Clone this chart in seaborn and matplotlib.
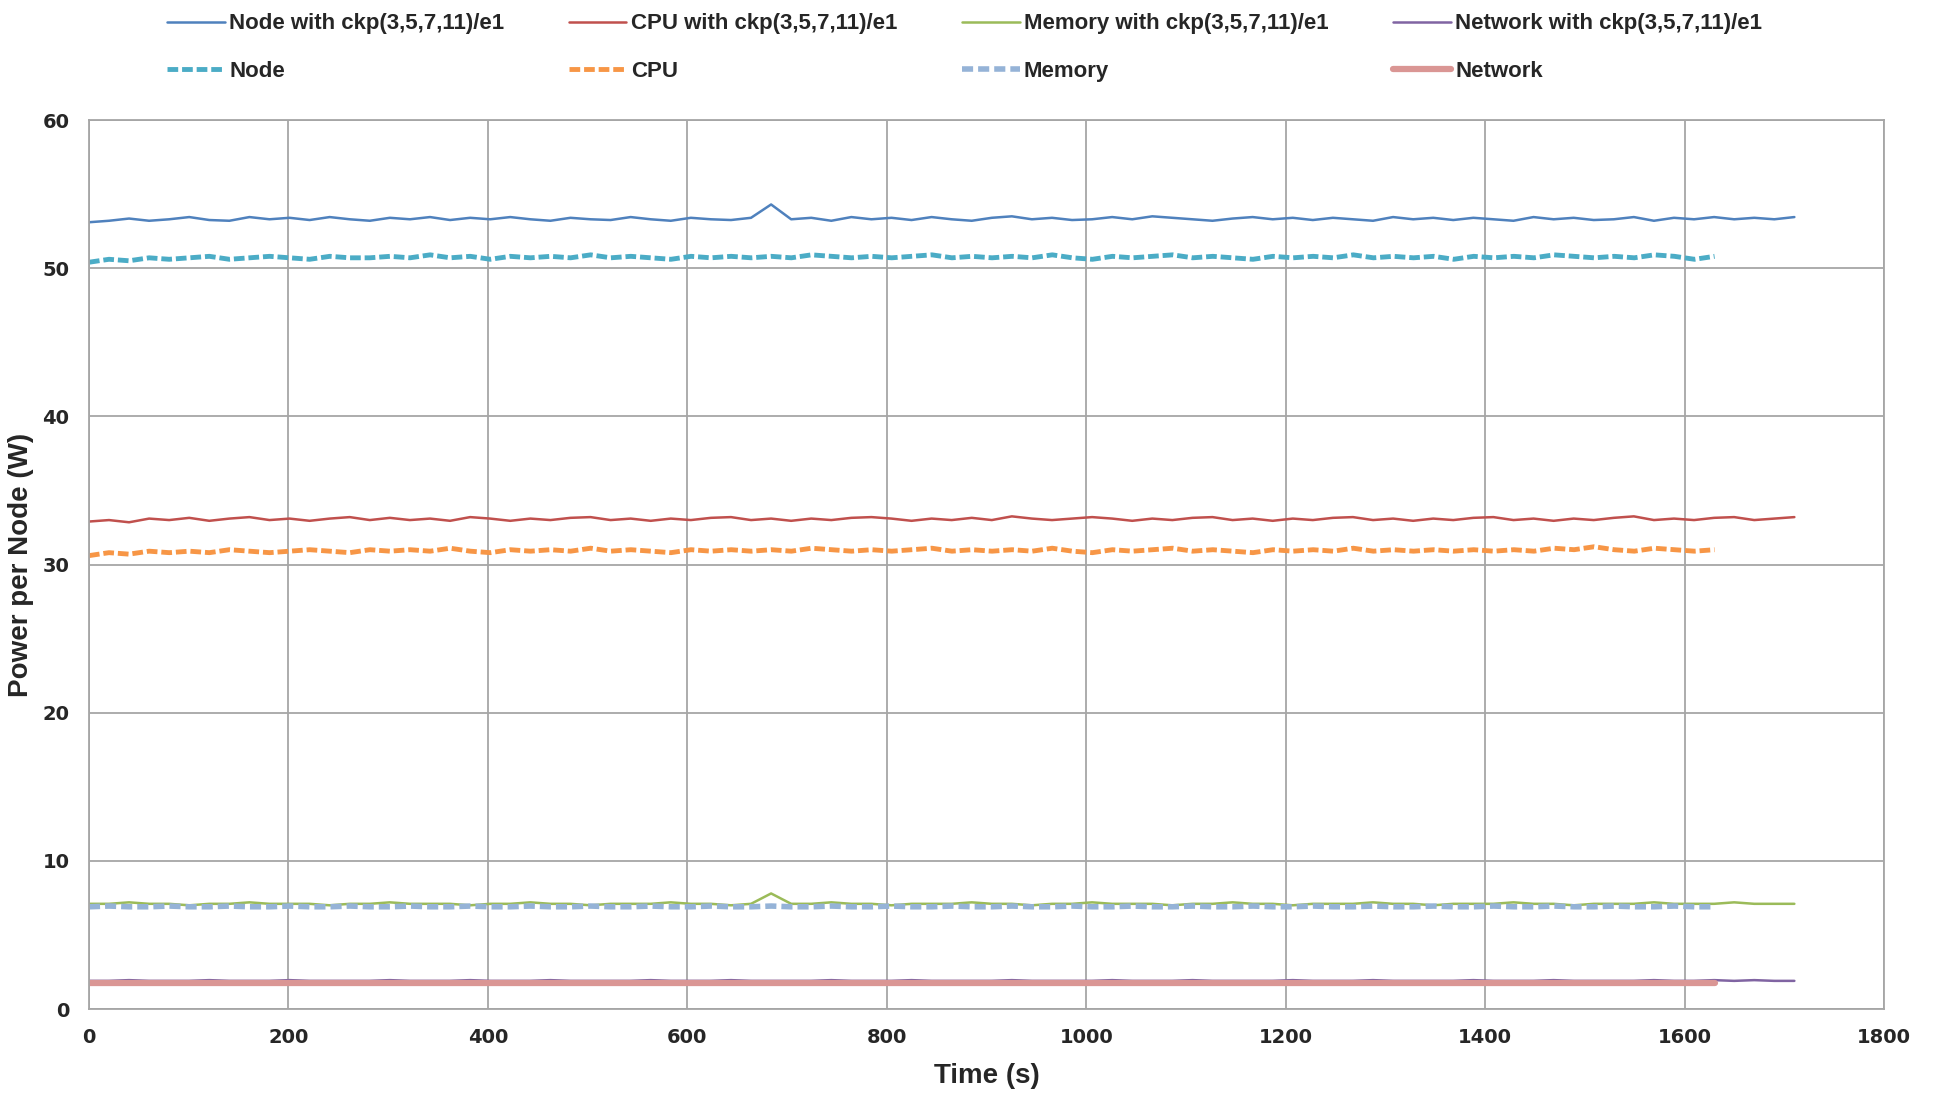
import numpy as np
import pandas as pd
import seaborn as sns
import matplotlib.pyplot as plt

node_ckp = [53.1, 53.2, 53.35, 53.2, 53.3, 53.45, 53.25, 53.2, 53.45, 53.3,
            53.4, 53.25, 53.45, 53.3, 53.2, 53.4, 53.3, 53.45, 53.25, 53.4,
            53.3, 53.45, 53.3, 53.2, 53.4, 53.3, 53.25, 53.45, 53.3, 53.2,
            53.4, 53.3, 53.25, 53.4, 54.3, 53.3, 53.4, 53.2, 53.45, 53.3,
            53.4, 53.25, 53.45, 53.3, 53.2, 53.4, 53.5, 53.3, 53.4, 53.25,
            53.3, 53.45, 53.3, 53.5, 53.4, 53.3, 53.2, 53.35, 53.45, 53.3,
            53.4, 53.25, 53.4, 53.3, 53.2, 53.45, 53.3, 53.4, 53.25, 53.4,
            53.3, 53.2, 53.45, 53.3, 53.4, 53.25, 53.3, 53.45, 53.2, 53.4,
            53.3, 53.45, 53.3, 53.4, 53.3, 53.45]
cpu_ckp = [32.9, 33.0, 32.85, 33.1, 33.0, 33.15, 32.95, 33.1, 33.2, 33.0,
           33.1, 32.95, 33.1, 33.2, 33.0, 33.15, 33.0, 33.1, 32.95, 33.2,
           33.1, 32.95, 33.1, 33.0, 33.15, 33.2, 33.0, 33.1, 32.95, 33.1,
           33.0, 33.15, 33.2, 33.0, 33.1, 32.95, 33.1, 33.0, 33.15, 33.2,
           33.1, 32.95, 33.1, 33.0, 33.15, 33.0, 33.25, 33.1, 33.0, 33.1,
           33.2, 33.1, 32.95, 33.1, 33.0, 33.15, 33.2, 33.0, 33.1, 32.95,
           33.1, 33.0, 33.15, 33.2, 33.0, 33.1, 32.95, 33.1, 33.0, 33.15,
           33.2, 33.0, 33.1, 32.95, 33.1, 33.0, 33.15, 33.25, 33.0, 33.1,
           33.0, 33.15, 33.2, 33.0, 33.1, 33.2]
mem_ckp = [7.1, 7.1, 7.2, 7.1, 7.1, 7.0, 7.1, 7.1, 7.2, 7.1,
           7.1, 7.1, 7.0, 7.1, 7.1, 7.2, 7.1, 7.1, 7.1, 7.0,
           7.1, 7.1, 7.2, 7.1, 7.1, 7.0, 7.1, 7.1, 7.1, 7.2,
           7.1, 7.1, 7.0, 7.1, 7.8, 7.1, 7.1, 7.2, 7.1, 7.1,
           7.0, 7.1, 7.1, 7.1, 7.2, 7.1, 7.1, 7.0, 7.1, 7.1,
           7.2, 7.1, 7.1, 7.1, 7.0, 7.1, 7.1, 7.2, 7.1, 7.1,
           7.0, 7.1, 7.1, 7.1, 7.2, 7.1, 7.1, 7.0, 7.1, 7.1,
           7.1, 7.2, 7.1, 7.1, 7.0, 7.1, 7.1, 7.1, 7.2, 7.1,
           7.1, 7.1, 7.2, 7.1, 7.1, 7.1]
net_ckp = [1.9, 1.9, 1.95, 1.9, 1.9, 1.9, 1.95, 1.9, 1.9, 1.9,
           1.95, 1.9, 1.9, 1.9, 1.9, 1.95, 1.9, 1.9, 1.9, 1.95,
           1.9, 1.9, 1.9, 1.95, 1.9, 1.9, 1.9, 1.9, 1.95, 1.9,
           1.9, 1.9, 1.95, 1.9, 1.9, 1.9, 1.9, 1.95, 1.9, 1.9,
           1.9, 1.95, 1.9, 1.9, 1.9, 1.9, 1.95, 1.9, 1.9, 1.9,
           1.9, 1.95, 1.9, 1.9, 1.9, 1.95, 1.9, 1.9, 1.9, 1.9,
           1.95, 1.9, 1.9, 1.9, 1.95, 1.9, 1.9, 1.9, 1.9, 1.95,
           1.9, 1.9, 1.9, 1.95, 1.9, 1.9, 1.9, 1.9, 1.95, 1.9,
           1.9, 1.95, 1.9, 1.95, 1.9, 1.9]

node_base = [50.4, 50.6, 50.5, 50.7, 50.6, 50.7, 50.8, 50.6, 50.7, 50.8,
             50.7, 50.6, 50.8, 50.7, 50.7, 50.8, 50.7, 50.9, 50.7, 50.8,
             50.6, 50.8, 50.7, 50.8, 50.7, 50.9, 50.7, 50.8, 50.7, 50.6,
             50.8, 50.7, 50.8, 50.7, 50.8, 50.7, 50.9, 50.8, 50.7, 50.8,
             50.7, 50.8, 50.9, 50.7, 50.8, 50.7, 50.8, 50.7, 50.9, 50.7,
             50.6, 50.8, 50.7, 50.8, 50.9, 50.7, 50.8, 50.7, 50.6, 50.8,
             50.7, 50.8, 50.7, 50.9, 50.7, 50.8, 50.7, 50.8, 50.6, 50.8,
             50.7, 50.8, 50.7, 50.9, 50.8, 50.7, 50.8, 50.7, 50.9, 50.8,
             50.6, 50.8]
cpu_base = [30.6, 30.8, 30.7, 30.9, 30.8, 30.9, 30.8, 31.0, 30.9, 30.8,
            30.9, 31.0, 30.9, 30.8, 31.0, 30.9, 31.0, 30.9, 31.1, 30.9,
            30.8, 31.0, 30.9, 31.0, 30.9, 31.1, 30.9, 31.0, 30.9, 30.8,
            31.0, 30.9, 31.0, 30.9, 31.0, 30.9, 31.1, 31.0, 30.9, 31.0,
            30.9, 31.0, 31.1, 30.9, 31.0, 30.9, 31.0, 30.9, 31.1, 30.9,
            30.8, 31.0, 30.9, 31.0, 31.1, 30.9, 31.0, 30.9, 30.8, 31.0,
            30.9, 31.0, 30.9, 31.1, 30.9, 31.0, 30.9, 31.0, 30.9, 31.0,
            30.9, 31.0, 30.9, 31.1, 31.0, 31.2, 31.0, 30.9, 31.1, 31.0,
            30.9, 31.0]
mem_base = [6.9, 6.95, 6.9, 6.9, 6.95, 6.9, 6.9, 6.95, 6.9, 6.9,
            6.95, 6.9, 6.9, 6.95, 6.9, 6.9, 6.95, 6.9, 6.9, 6.95,
            6.9, 6.9, 6.95, 6.9, 6.9, 6.95, 6.9, 6.9, 6.95, 6.9,
            6.9, 6.95, 6.9, 6.9, 6.95, 6.9, 6.9, 6.95, 6.9, 6.9,
            6.95, 6.9, 6.9, 6.95, 6.9, 6.9, 6.95, 6.9, 6.9, 6.95,
            6.9, 6.9, 6.95, 6.9, 6.9, 6.95, 6.9, 6.9, 6.95, 6.9,
            6.9, 6.95, 6.9, 6.9, 6.95, 6.9, 6.9, 6.95, 6.9, 6.9,
            6.95, 6.9, 6.9, 6.95, 6.9, 6.9, 6.95, 6.9, 6.9, 6.95,
            6.9, 6.9]
net_base = [1.75] * 82

ckp_end = 1710
base_end = 1630

labels = ['Node with ckp(3,5,7,11)/e1', 'CPU with ckp(3,5,7,11)/e1',
          'Memory with ckp(3,5,7,11)/e1', 'Network with ckp(3,5,7,11)/e1',
          'Node', 'CPU', 'Memory', 'Network']
colors = ['#4F81BD', '#C0504D', '#9BBB59', '#8064A2',
          '#4BACC6', '#F79646', '#95B3D7', '#DA9694']

sns.set_style('white')
plt.rcParams['font.family'] = ['DejaVu Sans']

fig = plt.figure(figsize=(19.46, 10.97), dpi=100)
ax = fig.add_axes([0.0457, 0.0802, 0.9225, 0.8104])

series = [node_ckp, cpu_ckp, mem_ckp, net_ckp, node_base, cpu_base, mem_base, net_base]
for i, vals in enumerate(series):
    end = ckp_end if i < 4 else base_end
    df = pd.DataFrame({'t': np.linspace(0, end, len(vals)), 'p': vals})
    if i < 4:
        ls, lw = '-', 1.8
    elif i == 7:
        ls, lw = '-', 4.5
    elif i == 6:
        ls, lw = (0, (2.0, 0.9)), 4.0
    else:
        ls, lw = (0, (2.2, 0.8)), 3.5
    sns.lineplot(data=df, x='t', y='p', ax=ax, color=colors[i], linestyle=ls,
                 linewidth=lw, label=labels[i], legend=False)

ax.set_xlim(0, 1800)
ax.set_ylim(0, 60)
ax.set_xticks(range(0, 1801, 200))
ax.set_yticks(range(0, 61, 10))
ax.grid(True, color='#A6A6A6', linewidth=1.3)
for s in ax.spines.values():
    s.set_color('#A6A6A6')
    s.set_linewidth(1.3)
ax.tick_params(length=0, labelsize=14, pad=14)
for lab in ax.get_xticklabels() + ax.get_yticklabels():
    lab.set_fontweight('bold')

lab_font = dict(family=['Liberation Sans', 'DejaVu Sans'], weight='bold', size=20)
ax.set_xlabel('Time (s)', fontdict=lab_font, labelpad=11)
ax.set_ylabel('Power per Node (W)', fontdict=lab_font, labelpad=6)

h, l = ax.get_legend_handles_labels()
order = [0, 4, 1, 5, 2, 6, 3, 7]
fig.legend([h[k] for k in order], [l[k] for k in order], ncol=4,
           loc='upper left', bbox_to_anchor=(0.0755, 1.006), frameon=False,
           prop=dict(family=['Liberation Sans', 'DejaVu Sans'], weight='bold', size=16),
           handlelength=2.6, handletextpad=0.2, columnspacing=2.9, labelspacing=1.2)

fig.savefig('out.png', dpi=100)
